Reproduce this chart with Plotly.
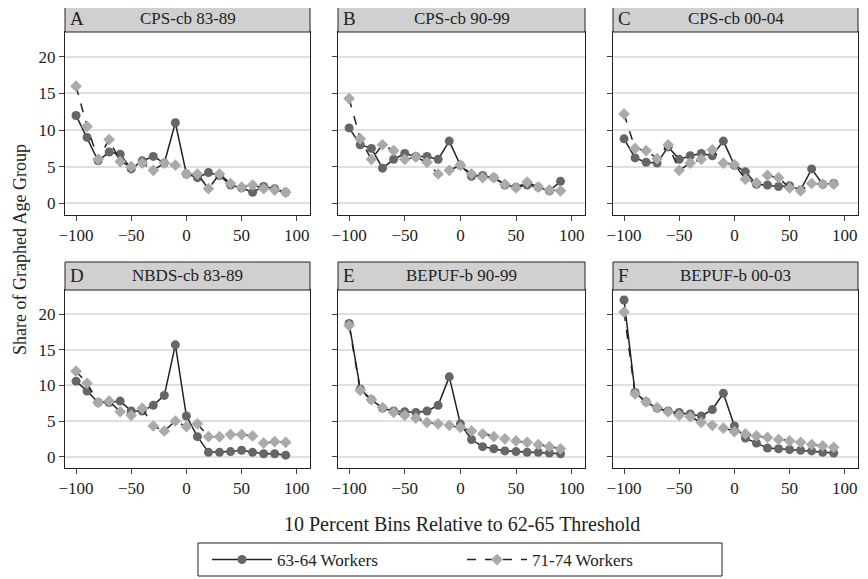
import plotly.graph_objects as go

x = list(range(-100, 100, 10))
titles = ["CPS-cb 83-89", "CPS-cb 90-99", "CPS-cb 00-04", "NBDS-cb 83-89", "BEPUF-b 90-99", "BEPUF-b 00-03"]
letters = ["A", "B", "C", "D", "E", "F"]
w6364 = [
    [12, 9, 5.8, 7, 6.7, 4.7, 5.8, 6.4, 5.5, 11, 4, 3.5, 4.2, 3.8, 2.5, 2.1, 1.5, 2.3, 2, 1.5],
    [10.3, 8, 7.5, 4.8, 6, 6.8, 6.4, 6.4, 6, 8.5, 5.2, 3.7, 3.8, 3.5, 2.5, 2.2, 2.5, 2.2, 1.7, 3],
    [8.8, 6.2, 5.6, 5.5, 7.7, 6, 6.5, 6.8, 6.5, 8.5, 5.2, 4.3, 2.6, 2.5, 2.3, 2.4, 1.8, 4.7, 2.6, 2.7],
    [10.6, 9.2, 7.6, 7.6, 7.8, 6.4, 6.4, 7.2, 8.6, 15.7, 5.7, 2.8, 0.6, 0.6, 0.7, 0.9, 0.6, 0.4, 0.4, 0.2],
    [18.7, 9.5, 8, 6.8, 6.4, 6.3, 6.2, 6.4, 7.2, 11.2, 4.6, 2.4, 1.4, 1.1, 0.8, 0.7, 0.6, 0.6, 0.5, 0.4],
    [22, 9, 7.7, 6.8, 6.4, 6.2, 6, 5.7, 6.6, 8.9, 4.3, 2.6, 1.9, 1.2, 1.1, 1, 0.9, 0.8, 0.6, 0.5],
]
w7174 = [
    [16, 10.5, 6, 8.7, 5.7, 5, 5.5, 4.5, 5.5, 5.2, 4, 4, 2, 4, 2.7, 2.2, 2.5, 2, 1.8, 1.5],
    [14.3, 8.8, 6, 8, 7.2, 6, 6.3, 5.6, 4, 4.5, 5.2, 4, 3.5, 3.5, 2.6, 2.1, 2.9, 2.2, 1.8, 1.7],
    [12.2, 7.5, 7.2, 6.1, 8, 4.5, 5.5, 6, 7.3, 5.5, 5.3, 3.3, 2.8, 3.8, 3.5, 2.1, 1.7, 2.7, 2.6, 2.6],
    [12, 10.3, 7.6, 7.8, 6.3, 5.8, 6.8, 4.3, 3.6, 5, 4.2, 4.6, 2.8, 2.8, 3.1, 3.1, 2.9, 1.9, 2.1, 2],
    [18.4, 9.3, 8, 6.9, 6.2, 5.8, 5.4, 4.8, 4.6, 4.4, 4.1, 3.6, 3.2, 2.8, 2.5, 2.2, 2, 1.7, 1.4, 1.1],
    [20.3, 8.8, 7.7, 6.9, 6.3, 5.8, 5.6, 4.8, 4.4, 4, 3.5, 3.2, 2.9, 2.7, 2.4, 2.2, 2, 1.7, 1.5, 1.3],
]

W, H = 868, 579
OFF = 8  # browser default body margin
cols = [(65, 310), (338, 585), (613, 858)]
rows = [(32, 215), (290, 468)]
heads = [(5, 32), (262, 290)]
FONT = "Liberation Serif"

def px(v): return (v - OFF) / W
def py(v): return 1 - (v - OFF) / H

fig = go.Figure()
shapes, annotations = [], []
for i in range(6):
    r, c = divmod(i, 3)
    n = "" if i == 0 else str(i + 1)
    xa, ya = "xaxis" + n, "yaxis" + n
    fig.add_trace(go.Scatter(x=x, y=w6364[i], mode="lines+markers", name="63-64 Workers",
                             line=dict(color="#222", width=1.5), marker=dict(color="#666", size=9, symbol="circle"),
                             xaxis="x" + n, yaxis="y" + n, showlegend=(i == 0)))
    fig.add_trace(go.Scatter(x=x, y=w7174[i], mode="lines+markers", name="71-74 Workers",
                             line=dict(color="#222", width=1.5, dash="dash"), marker=dict(color="#aaa", size=9, symbol="diamond"),
                             xaxis="x" + n, yaxis="y" + n, showlegend=(i == 0)))
    x0, x1 = cols[c]; y0, y1 = rows[r]
    fig.update_layout(**{
        xa: dict(domain=[px(x0), px(x1)], range=[-110, 112], tickvals=[-100, -50, 0, 50, 100],
                 showgrid=False, zeroline=False, showline=True, mirror=True, linecolor="#222", linewidth=1,
                 ticks="outside", ticklen=5, tickfont=dict(family=FONT, size=17, color="#222"),
                 anchor="y" + n, automargin=False),
        ya: dict(domain=[py(y1), py(y0)], range=[-1.6, 23.4], tickvals=[0, 5, 10, 15, 20],
                 showticklabels=(c == 0), gridcolor="#e0e0e0", gridwidth=1.5, zeroline=False,
                 showline=True, mirror=True, linecolor="#222", linewidth=1,
                 ticks="outside", ticklen=5, tickfont=dict(family=FONT, size=17, color="#222"),
                 anchor="x" + n, automargin=False),
    })
    h0, h1 = heads[r]
    shapes.append(dict(type="rect", xref="paper", yref="paper", x0=px(x0), x1=px(x1),
                       y0=py(h1), y1=py(h0), fillcolor="#d0d0d0", line=dict(color="#222", width=1)))
    annotations.append(dict(xref="paper", yref="paper", x=px((x0 + x1) / 2), y=py((h0 + h1) / 2),
                            xanchor="center", yanchor="middle",
                            text=titles[i], showarrow=False, font=dict(family=FONT, size=17, color="#222")))
    annotations.append(dict(xref="paper", yref="paper", x=px(x0 + 3), y=py((h0 + h1) / 2),
                            xanchor="left", yanchor="middle", text=letters[i], showarrow=False,
                            font=dict(family=FONT, size=19, color="#222")))

annotations.append(dict(xref="paper", yref="paper", x=px(20), y=py(250), text="Share of Graphed Age Group",
                        xanchor="center", yanchor="middle",
                        textangle=-90, showarrow=False, font=dict(family=FONT, size=18, color="#222")))
annotations.append(dict(xref="paper", yref="paper", x=px(462), y=py(524), text="10 Percent Bins Relative to 62-65 Threshold",
                        xanchor="center", yanchor="middle",
                        showarrow=False, font=dict(family=FONT, size=20, color="#222")))
shapes.append(dict(type="rect", xref="paper", yref="paper", x0=px(198), x1=px(722), y0=py(576), y1=py(543),
                   line=dict(color="#222", width=1)))

fig.update_layout(width=W, height=H, margin=dict(l=0, r=0, t=0, b=0, autoexpand=False),
                  plot_bgcolor="white", paper_bgcolor="white",
                  shapes=shapes, annotations=annotations,
                  legend=dict(orientation="h", x=px(462), xanchor="center", y=py(560), yanchor="middle",
                              font=dict(family=FONT, size=17, color="#222"), entrywidth=180, itemwidth=60,
                              bgcolor="rgba(0,0,0,0)"),
                  font=dict(family=FONT))
fig.write_html("out.html")
